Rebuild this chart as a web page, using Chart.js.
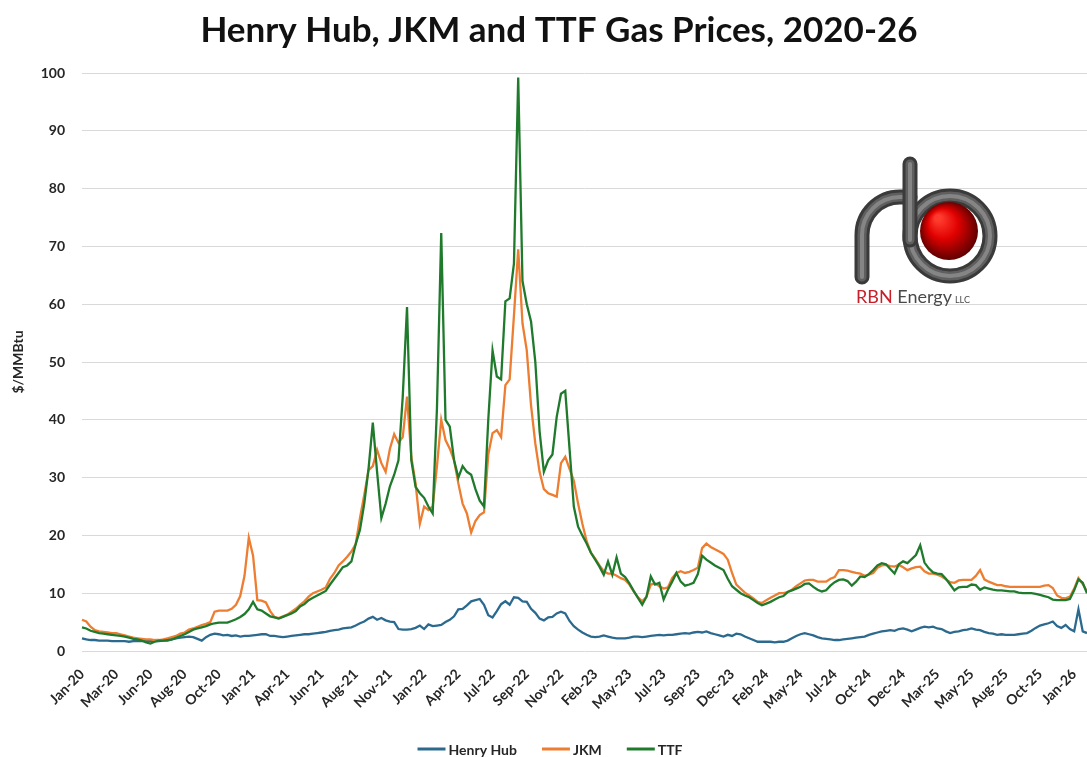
<!DOCTYPE html>
<html>
<head>
<meta charset="utf-8">
<script src="https://cdn.jsdelivr.net/npm/chart.js@4.4.1/dist/chart.umd.min.js"></script>
<style>
  html, body { margin: 0; padding: 0; background: #fff; }
  #wrap { width: 1087px; height: 757px; }
</style>
</head>
<body>
<div id="wrap"><canvas id="chart"></canvas></div>
<script>
// tick labels shown every 8th point (Excel-style interval)
const tickLabels = ['Jan-20','Mar-20','Jun-20','Aug-20','Oct-20','Jan-21','Apr-21','Jun-21','Aug-21','Nov-21',
  'Jan-22','Apr-22','Jul-22','Sep-22','Nov-22','Feb-23','May-23','Jul-23','Sep-23','Dec-23',
  'Feb-24','May-24','Jul-24','Oct-24','Dec-24','Mar-25','May-25','Aug-25','Oct-25','Jan-26'];
const pointsPerTick = 8;

const henryHub = [
  2.2, 2.0, 1.9, 1.9, 1.8, 1.8, 1.8, 1.7, 1.7, 1.7,
  1.7, 1.6, 1.7, 1.7, 1.7, 1.8, 1.7, 1.7, 1.7, 1.8,
  1.8, 2.0, 2.2, 2.3, 2.4, 2.5, 2.4, 2.1, 1.8, 2.4,
  2.8, 3.0, 2.9, 2.7, 2.8, 2.6, 2.7, 2.5, 2.6, 2.6,
  2.7, 2.8, 2.9, 2.9, 2.6, 2.6, 2.5, 2.4, 2.5, 2.6,
  2.7, 2.8, 2.9, 2.9, 3.0, 3.1, 3.2, 3.3, 3.5, 3.6,
  3.7, 3.9, 4.0, 4.1, 4.4, 4.8, 5.1, 5.6, 5.9, 5.4,
  5.7, 5.3, 5.1, 5.0, 3.8, 3.7, 3.7, 3.8, 4.0, 4.4,
  3.8, 4.6, 4.3, 4.4, 4.5, 5.0, 5.4, 6.0, 7.2, 7.3,
  7.9, 8.6, 8.8, 9.0, 8.0, 6.2, 5.8, 6.9, 8.1, 8.6,
  8.0, 9.3, 9.2, 8.6, 8.5, 7.3, 6.6, 5.6, 5.3, 5.8,
  5.9, 6.5, 6.8, 6.5, 5.2, 4.3, 3.7, 3.2, 2.8, 2.5,
  2.4, 2.5, 2.7, 2.5, 2.3, 2.2, 2.2, 2.2, 2.3, 2.5,
  2.5, 2.4, 2.5, 2.6, 2.7, 2.8, 2.7, 2.8, 2.8, 2.9,
  3.0, 3.1, 3.0, 3.2, 3.3, 3.2, 3.4, 3.1, 2.9, 2.7,
  2.5, 2.8, 2.6, 3.0, 2.9, 2.5, 2.2, 1.9, 1.6, 1.6,
  1.6, 1.6, 1.5, 1.6, 1.6, 1.8, 2.2, 2.6, 2.9, 3.1,
  2.9, 2.7, 2.4, 2.2, 2.1, 2.0, 1.9, 1.9, 2.0, 2.1,
  2.2, 2.3, 2.4, 2.5, 2.8, 3.0, 3.2, 3.4, 3.5, 3.6,
  3.5, 3.8, 3.9, 3.7, 3.4, 3.7, 4.0, 4.2, 4.1, 4.2,
  3.9, 3.8, 3.4, 3.1, 3.3, 3.4, 3.6, 3.7, 3.9, 3.7,
  3.6, 3.3, 3.1, 3.0, 2.8, 2.9, 2.8, 2.8, 2.8, 2.9,
  3.0, 3.1, 3.5, 4.0, 4.4, 4.6, 4.8, 5.1, 4.3, 4.0,
  4.5, 3.8, 3.4, 7.2, 3.4, 3.1
];

const jkm = [
  5.4, 5.1, 4.2, 3.6, 3.4, 3.3, 3.2, 3.1, 3.1, 2.9,
  2.7, 2.5, 2.3, 2.2, 2.1, 2.0, 2.0, 1.9, 1.9, 2.0,
  2.2, 2.4, 2.6, 3.0, 3.2, 3.7, 3.9, 4.2, 4.5, 4.7,
  5.0, 6.8, 7.0, 7.0, 7.0, 7.3, 8.0, 9.5, 13.0, 19.6,
  16.5, 8.8, 8.7, 8.4, 6.9, 5.9, 5.7, 6.0, 6.3, 6.8,
  7.3, 8.0, 8.6, 9.4, 10.0, 10.3, 10.6, 11.0, 12.5, 13.5,
  14.8, 15.5, 16.3, 17.2, 18.5, 23, 27, 31.3, 32, 34.8,
  32.5, 31, 35, 37.5, 36, 37, 44, 33.6, 29, 22,
  25, 24.4, 25, 32, 40, 36.5, 35, 33, 29, 25.5,
  23.8, 20.5, 22.5, 23.5, 24, 34, 37.7, 38.2, 37, 46,
  47, 58, 69.5, 56.7, 52, 42.5, 35.9, 31, 28, 27.3,
  27, 26.7, 32.5, 33.6, 31.5, 29.5, 25.5, 22, 19, 17,
  16, 14.8, 13.8, 13.4, 13.4, 13.0, 12.6, 12.3, 11.5, 10.3,
  9.3, 8.6, 9.4, 11.5, 11.7, 11.2, 10.8, 11.0, 12.6, 13.5,
  13.8, 13.5, 13.7, 14.0, 14.4, 17.8, 18.6, 18.0, 17.6, 17.2,
  16.8, 15.8, 13.5, 11.5, 10.8, 10.1, 9.6, 9.1, 8.5, 8.3,
  8.8, 9.2, 9.6, 10.0, 10.0, 10.2, 10.6, 11.2, 11.7, 12.2,
  12.3, 12.3, 12.0, 12.0, 12.0, 12.5, 12.8, 14.0, 14.0, 13.9,
  13.7, 13.5, 13.4, 13.0, 13.2, 13.5, 14.4, 14.8, 14.9, 14.7,
  14.6, 14.9, 14.5, 14.0, 14.3, 14.5, 14.6, 13.8, 13.4, 13.4,
  13.2, 12.9, 12.4, 11.9, 11.8, 12.2, 12.3, 12.3, 12.3, 13.0,
  14.0, 12.4, 12.0, 11.7, 11.4, 11.4, 11.2, 11.1, 11.1, 11.1,
  11.1, 11.1, 11.1, 11.1, 11.1, 11.3, 11.4, 10.9, 9.6, 9.2,
  9.1, 9.4, 10.8, 12.6, 11.6, 10.3
];

const ttf = [
  4.1, 3.9, 3.5, 3.3, 3.1, 3.0, 2.9, 2.8, 2.7, 2.6,
  2.5, 2.3, 2.1, 2.0, 1.8, 1.5, 1.3, 1.6, 1.8, 1.8,
  1.9, 2.0, 2.3, 2.6, 2.9, 3.3, 3.7, 3.9, 4.1, 4.3,
  4.6, 4.8, 4.9, 4.9, 4.9, 5.2, 5.5, 5.9, 6.4, 7.2,
  8.5, 7.2, 7.0, 6.5, 6.0, 5.8, 5.6, 5.9, 6.2, 6.5,
  6.9, 7.7, 8.1, 8.8, 9.2, 9.6, 10.0, 10.4, 11.5, 12.5,
  13.5, 14.5, 14.8, 15.5, 18.5, 21, 25.5, 31.5, 39.5, 31,
  23, 25.5, 28.5, 30.5, 33, 44, 59.5, 33, 28.4, 27.3,
  26.5, 25, 23.8, 42, 72.3, 40, 38.8, 33, 30, 32,
  31, 30.5, 28, 26, 25, 40, 52, 47.5, 47, 60.5,
  61, 67, 99.2, 64, 60, 57, 50, 38, 31, 33,
  34, 40.5, 44.5, 45, 35, 25, 21.5, 20, 18.6, 17,
  15.8, 14.6, 13.2, 15.5, 13.2, 16.2, 13.4, 12.8, 11.7, 10.4,
  9.2, 8.0, 9.4, 12.9, 11.5, 11.8, 8.9, 10.6, 12.0, 13.5,
  12.0, 11.3, 11.5, 11.8, 13.3, 16.5, 15.8, 15.3, 14.8, 14.4,
  14.0, 12.5, 11.2, 10.6, 10.0, 9.6, 9.3, 8.8, 8.3, 7.9,
  8.2, 8.5, 8.9, 9.3, 9.5, 10.2, 10.5, 10.8, 11.1, 11.6,
  11.7, 11.1, 10.6, 10.3, 10.5, 11.3, 11.9, 12.3, 12.4, 12.1,
  11.3, 12.0, 12.9, 12.8, 13.3, 14.0, 14.8, 15.2, 15.0, 14.2,
  13.4, 15.0, 15.5, 15.2, 15.9, 16.6, 18.3, 15.3, 14.3, 13.6,
  13.4, 13.3, 12.5, 11.5, 10.5, 11.0, 11.1, 11.1, 11.5, 11.4,
  10.6, 11.0, 10.8, 10.6, 10.5, 10.5, 10.4, 10.3, 10.3, 10.1,
  10.0, 10.0, 10.0, 9.9, 9.7, 9.5, 9.3, 8.9, 8.8, 8.8,
  8.8, 9.0, 10.5, 12.4, 11.8, 10.0
];

const titleText = 'Henry Hub, JKM and TTF Gas Prices, 2020-26';
const FONT = 'Lato, "DejaVu Sans", sans-serif';
const TEXT_COLOR = '#262626';

// one label per point, only every 8th one is shown
const categories = henryHub.map((_, i) =>
  i % pointsPerTick === 0 ? (tickLabels[i / pointsPerTick] || '') : '');

// title drawn by hand so it can sit off-centre like the original
const titlePlugin = {
  id: 'titleText',
  afterDraw(chart) {
    const ctx = chart.ctx;
    ctx.save();
    ctx.font = 'bold 35px ' + FONT;
    ctx.fillStyle = '#111';
    ctx.textAlign = 'center';
    ctx.textBaseline = 'middle';
    ctx.fillText(titleText, 559, 31);
    ctx.restore();
  }
};

// line-style legend at the bottom
const legendPlugin = {
  id: 'lineLegend',
  afterDraw(chart) {
    const ctx = chart.ctx;
    const sets = chart.data.datasets;
    ctx.save();
    ctx.font = 'bold 14px ' + FONT;
    ctx.textBaseline = 'middle';
    const lineLen = 28, gapText = 3, gapItem = 25;
    const widths = sets.map(d => lineLen + gapText + ctx.measureText(d.label).width);
    const total = widths.reduce((a, b) => a + b, 0) + gapItem * (sets.length - 1);
    let x = 550 - total / 2;
    const y = 749;
    sets.forEach((d, i) => {
      ctx.strokeStyle = d.borderColor;
      ctx.lineWidth = 3;
      ctx.beginPath();
      ctx.moveTo(x, y);
      ctx.lineTo(x + lineLen, y);
      ctx.stroke();
      ctx.fillStyle = TEXT_COLOR;
      ctx.fillText(d.label, x + lineLen + gapText, y + 1);
      x += widths[i] + gapItem;
    });
    ctx.restore();
  }
};

// RBN Energy logo
const logoPlugin = {
  id: 'logo',
  afterDraw(chart) {
    const ctx = chart.ctx;
    ctx.save();
    const pipe = (path) => {
      ctx.lineCap = 'round';
      [[15, '#3a3a3a'], [9, '#5f5f5f'], [4, '#858585']].forEach(([w, c]) => {
        ctx.beginPath();
        path();
        ctx.strokeStyle = c;
        ctx.lineWidth = w;
        ctx.stroke();
      });
    };
    // ring of the "b"
    pipe(() => ctx.arc(950, 236, 40, 0, Math.PI * 2));
    // leg + arch of the "r"
    pipe(() => {
      ctx.moveTo(862, 277);
      ctx.lineTo(862, 235);
      ctx.arc(900, 235, 38, Math.PI, Math.PI * 1.5);
      ctx.lineTo(910, 197);
    });
    // tall stem
    pipe(() => {
      ctx.moveTo(910, 164);
      ctx.lineTo(910, 240);
    });
    // red ball
    const g = ctx.createRadialGradient(938, 218, 3, 949, 231, 30);
    g.addColorStop(0, '#ff3b2e');
    g.addColorStop(0.45, '#e00000');
    g.addColorStop(1, '#5a0000');
    ctx.beginPath();
    ctx.arc(949, 231, 29, 0, Math.PI * 2);
    ctx.fillStyle = g;
    ctx.fill();
    // name
    ctx.textBaseline = 'alphabetic';
    ctx.font = '18px ' + FONT;
    ctx.fillStyle = '#c8202b';
    ctx.fillText('RBN', 856, 303);
    let x = 856 + ctx.measureText('RBN ').width;
    ctx.fillStyle = '#4a4a4a';
    ctx.fillText('Energy', x, 303);
    x += ctx.measureText('Energy').width + 3;
    ctx.font = '9px ' + FONT;
    ctx.fillText('LLC', x, 303);
    ctx.restore();
  }
};

const lineSet = (label, data, color, order) => ({
  label, data,
  borderColor: color,
  backgroundColor: color,
  borderWidth: 2.3,
  pointRadius: 0,
  tension: 0,
  order
});

new Chart(document.getElementById('chart'), {
  type: 'line',
  data: {
    labels: categories,
    datasets: [
      lineSet('Henry Hub', henryHub, '#2b6a8e', 3),
      lineSet('JKM', jkm, '#ed7d31', 2),
      lineSet('TTF', ttf, '#1f7a2c', 1)
    ]
  },
  options: {
    responsive: true,
    maintainAspectRatio: false,
    animation: false,
    layout: { padding: { top: 73, right: 0, bottom: 30, left: 0 } },
    plugins: {
      legend: { display: false },
      title: { display: false },
      tooltip: { enabled: false }
    },
    scales: {
      x: {
        type: 'category',
        grid: { display: false },
        border: { display: false },
        ticks: {
          autoSkip: false,
          minRotation: 45,
          maxRotation: 45,
          padding: 7,
          color: TEXT_COLOR,
          font: { family: FONT, size: 14, weight: 'bold' }
        },
        afterFit(scale) {
          scale.height = 76;
          scale.paddingLeft = 0;
          scale.paddingRight = 0;
        }
      },
      y: {
        min: 0,
        max: 100,
        ticks: {
          stepSize: 10,
          padding: 17,
          color: TEXT_COLOR,
          font: { family: FONT, size: 14, weight: 'bold' }
        },
        grid: { color: '#d9d9d9', lineWidth: 1, drawTicks: false },
        border: { display: false },
        title: {
          display: true,
          text: '$/MMBtu',
          color: TEXT_COLOR,
          font: { family: FONT, size: 14, weight: 'bold' },
          padding: { top: 10, bottom: 0 }
        },
        afterFit(scale) {
          scale.width = 82;
        }
      }
    }
  },
  plugins: [titlePlugin, legendPlugin, logoPlugin]
});
</script>
</body>
</html>
